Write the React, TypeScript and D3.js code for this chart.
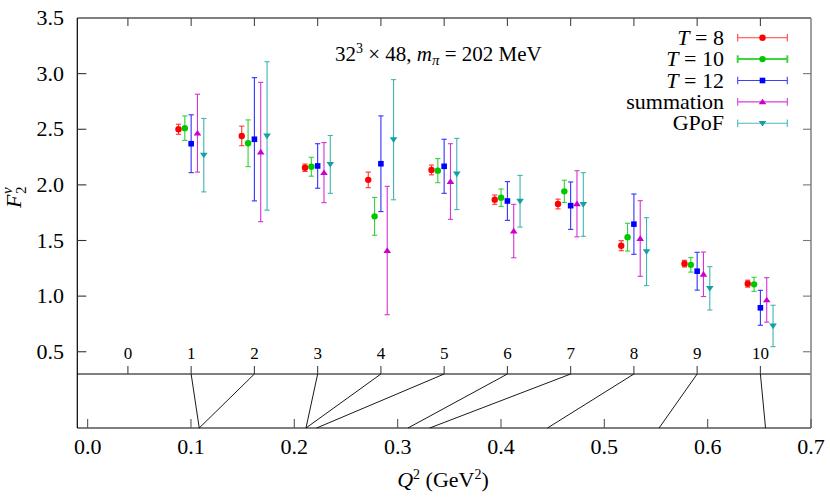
import React from "react";
import * as d3 from "d3";

const W = 830;
const H = 498;

const indexTicks = [0, 1, 2, 3, 4, 5, 6, 7, 8, 9, 10];
const indices = [1, 2, 3, 4, 5, 6, 7, 8, 9, 10];
const indexQ2 = [0.108, 0.108, 0.2113, 0.2113, 0.2216, 0.31, 0.331, 0.445, 0.553, 0.656];

const yTicks = [0.5, 1.0, 1.5, 2.0, 2.5, 3.0, 3.5];
const q2Ticks = [0.0, 0.1, 0.2, 0.3, 0.4, 0.5, 0.6, 0.7];

const seriesNames = ["T = 8", "T = 10", "T = 12", "summation", "GPoF"];
const seriesColors = ["#ff0000", "#00c800", "#0000ff", "#cc00cc", "#12a2a2"];
const seriesOffsets = [-0.2, -0.1, 0, 0.1, 0.2];

const T8 = [2.5, 2.44, 2.154, 2.045, 2.134, 1.867, 1.828, 1.453, 1.292, 1.112];
const T8err = [0.045, 0.088, 0.033, 0.07, 0.044, 0.042, 0.044, 0.045, 0.03, 0.031];
const T10 = [2.51, 2.374, 2.163, 1.717, 2.128, 1.885, 1.942, 1.53, 1.281, 1.106];
const T10err = [0.11, 0.21, 0.085, 0.17, 0.108, 0.078, 0.1, 0.125, 0.065, 0.063];
const T12 = [2.37, 2.41, 2.17, 2.19, 2.167, 1.855, 1.813, 1.647, 1.224, 0.895];
const T12err = [0.26, 0.554, 0.2, 0.43, 0.243, 0.174, 0.213, 0.271, 0.17, 0.157];
const Summ = [2.465, 2.295, 2.11, 1.41, 2.03, 1.585, 1.83, 1.518, 1.196, 0.966];
const SummErr = [0.35, 0.626, 0.27, 0.577, 0.34, 0.24, 0.297, 0.34, 0.2, 0.2];
const GPoF = [2.267, 2.44, 2.184, 2.406, 2.098, 1.853, 1.824, 1.4, 1.07, 0.732];
const GPoFErr = [0.33, 0.667, 0.26, 0.54, 0.32, 0.232, 0.286, 0.305, 0.195, 0.186];

const seriesValues = [T8, T10, T12, Summ, GPoF];
const seriesErrors = [T8err, T10err, T12err, SummErr, GPoFErr];

const L = 77.3;
const R = 811;
const TOP = 18;
const MID = 374;
const BOT = 428;

const xIdx = d3.scaleLinear().domain([-0.8, 10.8]).range([L, R]);
const xQ = d3.scaleLinear().domain([-0.01, 0.7]).range([L, R]);
const y = d3.scaleLinear().domain([0.3, 3.5]).range([MID, TOP]);

function Marker({ kind, x, yy, color }: { kind: number; x: number; yy: number; color: string }) {
  if (kind === 0 || kind === 1) return <circle cx={x} cy={yy} r={3.2} fill={color} />;
  if (kind === 2) return <rect x={x - 2.8} y={yy - 2.8} width={5.6} height={5.6} fill={color} />;
  if (kind === 3)
    return <path d={`M${x},${yy - 3.2}L${x + 3.8},${yy + 2.4}L${x - 3.8},${yy + 2.4}Z`} fill={color} />;
  return <path d={`M${x},${yy + 3.2}L${x + 3.8},${yy - 2.4}L${x - 3.8},${yy - 2.4}Z`} fill={color} />;
}

function T(props: any) {
  const { children, ...rest } = props;
  return (
    <text fill="#000" {...rest} style={{ fontFamily: `"Liberation Serif"` }}>
      {children}
    </text>
  );
}

export default function App() {
  const cap = 2.6;
  return (
    <svg width={W} height={H} style={{ position: "absolute", left: 0, top: 0 }}>
      <rect x={0} y={0} width={W} height={H} fill="#fff" />
      {seriesValues.map((vals, s) => (
        <g key={s}>
          {vals.map((v, i) => {
            const cx = xIdx(indices[i] + seriesOffsets[s]);
            const e = seriesErrors[s][i];
            const y1 = y(v + e);
            const y2 = y(v - e);
            const c = seriesColors[s];
            return (
              <g key={i}>
                <g stroke={c} strokeWidth={1.1} opacity={0.8}>
                  <line x1={cx} x2={cx} y1={y1} y2={y2} />
                  <line x1={cx - cap} x2={cx + cap} y1={y1} y2={y1} />
                  <line x1={cx - cap} x2={cx + cap} y1={y2} y2={y2} />
                </g>
                <Marker kind={s} x={cx} yy={y(v)} color={c} />
              </g>
            );
          })}
        </g>
      ))}

      <g stroke="#000" strokeWidth={1.2} fill="none">
        <line x1={L} x2={R} y1={TOP} y2={TOP} />
        <line x1={L} x2={L} y1={TOP} y2={BOT} />
        <line x1={L} x2={R} y1={MID} y2={MID} />
        <line x1={L} x2={R} y1={BOT} y2={BOT} />
      </g>
      <line x1={R} x2={R} y1={TOP} y2={BOT} stroke="#888" strokeWidth={1.6} />

      {yTicks.map((t) => (
        <g key={t}>
          {t < 3.5 && <line x1={L} x2={L + 9} y1={y(t)} y2={y(t)} stroke="#333" strokeWidth={1.1} />}
          {t < 3.5 && <line x1={R - 8} x2={R} y1={y(t)} y2={y(t)} stroke="#777" strokeWidth={1.1} />}
          <T x={64} y={y(t) + 7} textAnchor="end" fontSize={22}>
            {t.toFixed(1)}
          </T>
        </g>
      ))}

      {indexTicks.map((t) => (
        <g key={t}>
          <line x1={xIdx(t)} x2={xIdx(t)} y1={TOP} y2={TOP + 8} stroke="#444" strokeWidth={1.1} />
          <line x1={xIdx(t)} x2={xIdx(t)} y1={MID} y2={MID - 8} stroke="#444" strokeWidth={1.1} />
          <T x={xIdx(t)} y={358.5} textAnchor="middle" fontSize={17}>
            {t}
          </T>
        </g>
      ))}

      {q2Ticks.map((t) => (
        <g key={t}>
          <line x1={xQ(t)} x2={xQ(t)} y1={BOT} y2={BOT - 9} stroke="#555" strokeWidth={1.1} />
          <T x={xQ(t)} y={454} textAnchor="middle" fontSize={22}>
            {t.toFixed(1)}
          </T>
        </g>
      ))}

      {indices.map((idx, i) => (
        <line
          key={idx}
          x1={xIdx(idx)}
          y1={MID}
          x2={xQ(indexQ2[i])}
          y2={BOT}
          stroke="#000"
          strokeWidth={0.9}
        />
      ))}

      <T x={335} y={61} fontSize={21}>
        32<tspan dy={-8} fontSize={14}>3</tspan>
        <tspan dy={8}> × 48, </tspan>
        <tspan fontStyle="italic">m</tspan>
        <tspan dy={4} fontSize={15} fontStyle="italic">π</tspan>
        <tspan dy={-4}> = 202 MeV</tspan>
      </T>

      {seriesNames.map((n, s) => {
        const cy = 37.7 + s * 21.4;
        const c = seriesColors[s];
        const x1 = 737.7;
        const x2 = 787.3;
        const mx = (x1 + x2) / 2;
        const isT = n.startsWith("T");
        return (
          <g key={n}>
            <T x={724} y={cy + 7} textAnchor="end" fontSize={22}>
              {isT ? (
                <>
                  <tspan fontStyle="italic">T</tspan>
                  <tspan>{n.slice(1)}</tspan>
                </>
              ) : (
                n
              )}
            </T>
            <g stroke={c} strokeWidth={s === 1 ? 2 : 1.1} opacity={0.75}>
              <line x1={x1} x2={x2} y1={cy} y2={cy} />
              <line x1={x1} x2={x1} y1={cy - 3.8} y2={cy + 3.8} />
              <line x1={x2} x2={x2} y1={cy - 3.8} y2={cy + 3.8} />
            </g>
            <Marker kind={s} x={mx} yy={cy} color={c} />
          </g>
        );
      })}

      <g transform="translate(21,208) rotate(-90)">
        <T x={0} y={0} fontSize={22} fontStyle="italic">
          F
        </T>
        <T x={14} y={-9} fontSize={15} fontStyle="italic">
          v
        </T>
        <T x={14} y={5} fontSize={15}>
          2
        </T>
      </g>

      <T x={443} y={487} textAnchor="middle" fontSize={22}>
        <tspan fontStyle="italic">Q</tspan>
        <tspan dy={-8} fontSize={14}>2</tspan>
        <tspan dy={8}> (GeV</tspan>
        <tspan dy={-8} fontSize={14}>2</tspan>
        <tspan dy={8}>)</tspan>
      </T>
    </svg>
  );
}
